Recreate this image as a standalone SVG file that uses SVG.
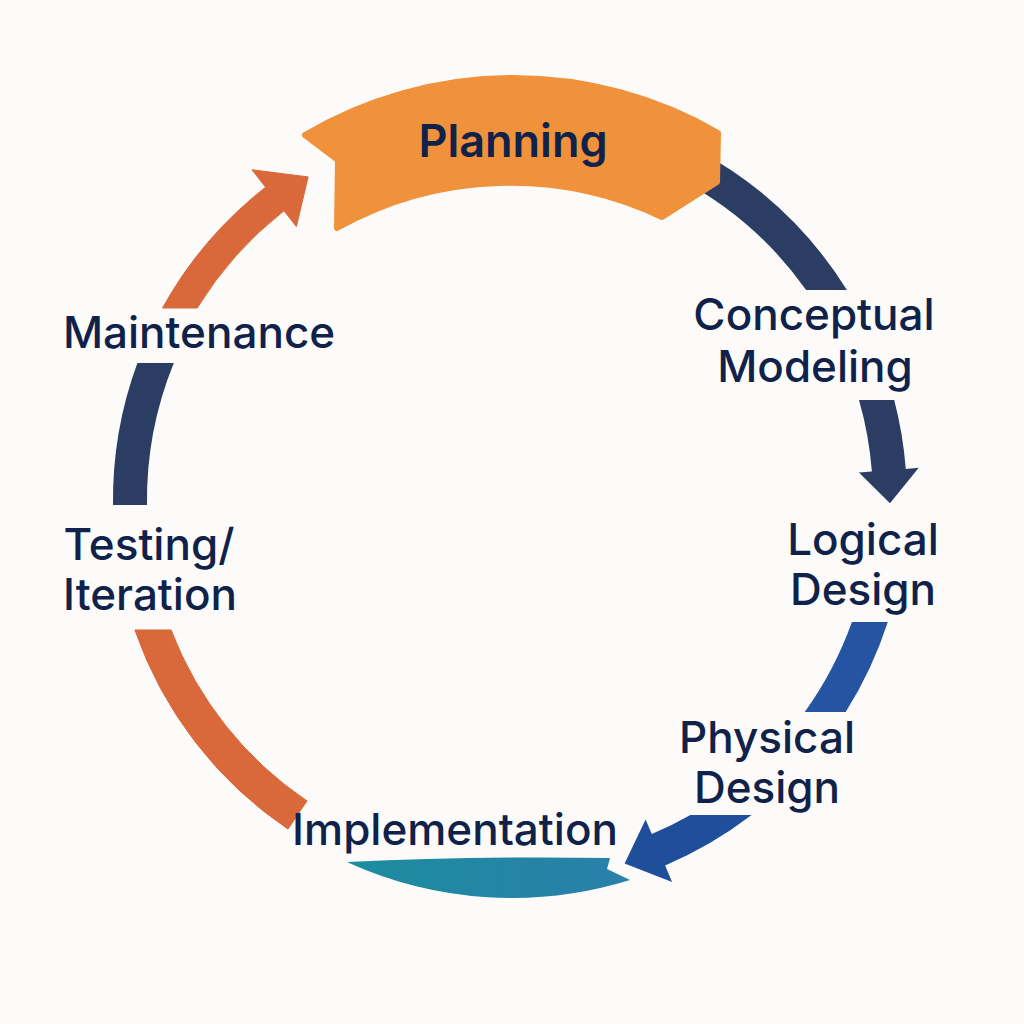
<svg xmlns="http://www.w3.org/2000/svg" width="1024" height="1024" viewBox="0 0 1024 1024">
<defs>
<linearGradient id="teal" x1="0" y1="0" x2="1" y2="0">
<stop offset="0" stop-color="#1c8c9f"/>
<stop offset="1" stop-color="#2a80aa"/>
</linearGradient>
<style>
.lbl{font-family:Inter,"Noto Sans","Liberation Sans",sans-serif;font-weight:500;fill:#10224a;text-anchor:middle;font-size:44px}
.navy{fill:#2c3d63}
.orange{fill:#d9683a;stroke:#d9683a;stroke-width:1;stroke-linejoin:round}
.blue{fill:#2554a3}
.blue2{fill:#1f4e9a}
</style>
</defs>
<rect width="1024" height="1024" fill="#fcfbf9"/>
<g id="connectors">
<path class="navy" d="M 696.4 149.5 A 397 397 0 0 1 846.9 290 L 806.1 290 A 363 363 0 0 0 680.4 179.5 Z"/>
<path class="navy" d="M 859 400 L 894.2 400 A 397 397 0 0 1 905.8 468.9 L 918.7 467.8 L 890 503.3 L 858.9 472.5 L 871.9 471.5 A 363 363 0 0 0 859 400 Z"/>
<path class="blue" d="M 851.9 622 L 887.8 622 A 397 397 0 0 1 845.7 712 L 804.7 712 A 363 363 0 0 0 851.9 622 Z"/>
<path class="blue2" d="M 690.4 815 L 751.6 815 A 397 397 0 0 1 665.1 865.4 L 672.1 882 L 624.6 863.4 L 645.6 819.4 L 651.8 834.1 A 363 363 0 0 0 690.4 815 Z"/>
<path class="orange" d="M 134.9 630 L 171.1 630 A 363 363 0 0 0 307 800.9 L 288 829.1 A 397 397 0 0 1 134.9 630 Z"/>
<path class="navy" d="M 113 505 L 147 505 A 363 363 0 0 1 173.8 363 L 137.4 363 A 397 397 0 0 0 113 505 Z"/>
<path class="orange" d="M 162.5 308 L 197.2 308 A 367 367 0 0 1 284 210.8 L 296.4 226.6 L 308.1 176.9 L 252 169.8 L 265.6 187.2 A 397 397 0 0 0 162.5 308 Z"/>
</g>
<g id="planning">
<path d="M 305 135 A 409 409 0 0 1 718 133 L 717 182 L 662 217 A 354 354 0 0 0 337 228 L 338 160 Z" fill="#f0913c" stroke="#f0913c" stroke-width="6" stroke-linejoin="round"/>
<text class="lbl" x="513" y="157" style="font-size:45px;font-weight:600">Planning</text>
</g>
<g id="conceptual">
<text class="lbl" x="814" y="330">Conceptual</text>
<text class="lbl" x="815" y="382">Modeling</text>
</g>
<g id="logical">
<text class="lbl" x="863" y="555">Logical</text>
<text class="lbl" x="863" y="605">Design</text>
</g>
<g id="physical">
<text class="lbl" x="767" y="753">Physical</text>
<text class="lbl" x="767" y="803">Design</text>
</g>
<g id="implementation">
<path d="M 348 862 Q 470 856 610 858 L 607 869 L 630 880 A 397 397 0 0 1 348 862.4 Z" fill="url(#teal)"/>
<text class="lbl" x="455" y="845">Implementation</text>
</g>
<g id="testing">
<text class="lbl" x="149" y="560">Testing/</text>
<text class="lbl" x="150" y="610">Iteration</text>
</g>
<g id="maintenance">
<text class="lbl" x="199" y="348">Maintenance</text>
</g>
</svg>
